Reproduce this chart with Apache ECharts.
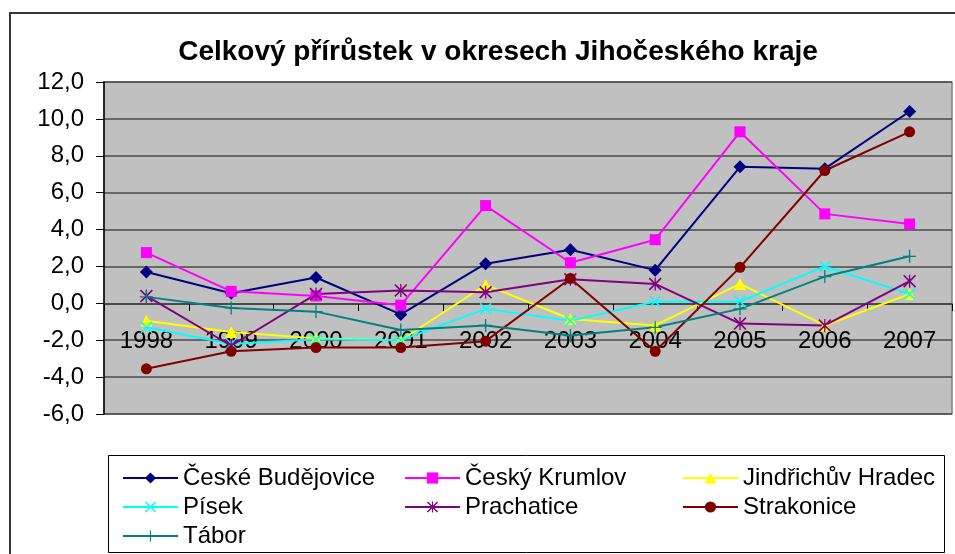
<!DOCTYPE html>
<html>
<head>
<meta charset="utf-8">
<script src="https://cdn.jsdelivr.net/npm/echarts@6/dist/echarts.min.js"></script>
<style>
  html, body { margin: 0; padding: 0; background: #fff; }
  #chart { width: 955px; height: 554px; }
</style>
</head>
<body>
<div id="chart"></div>
<script>
// years on x axis
const years = ["1998", "1999", "2000", "2001", "2002", "2003", "2004", "2005", "2006", "2007"];
// values per okres
const ceskeBudejovice = [1.7, 0.55, 1.4, -0.6, 2.15, 2.9, 1.8, 7.4, 7.3, 10.4];
const ceskyKrumlov = [2.75, 0.65, 0.4, -0.1, 5.3, 2.2, 3.45, 9.3, 4.85, 4.3];
const jindrichuvHradec = [-0.95, -1.55, -1.9, -2.0, 1.0, -0.85, -1.2, 1.05, -1.2, 0.5];
const pisek = [-1.3, -2.2, -1.95, -2.0, -0.3, -0.95, 0.1, 0.1, 2.0, 0.5];
const prachatice = [0.4, -2.3, 0.5, 0.7, 0.6, 1.3, 1.05, -1.1, -1.2, 1.2];
const strakonice = [-3.55, -2.6, -2.4, -2.4, -2.05, 1.35, -2.6, 1.95, 7.2, 9.3];
const tabor = [0.35, -0.25, -0.45, -1.45, -1.2, -1.75, -1.3, -0.3, 1.45, 2.55];

const FONT = "'Liberation Sans', Arial, sans-serif";

// hand made symbols (x, asterisk, plus)
const xPath = "path://M0,1.8L1.8,0L10,8.2L18.2,0L20,1.8L11.8,10L20,18.2L18.2,20L10,11.8L1.8,20L0,18.2L8.2,10Z";
const starPath = xPath + "M9,0L11,0L11,20L9,20Z";
const plusPath = "path://M9,0L11,0L11,9L20,9L20,11L11,11L11,20L9,20L9,11L0,11L0,9L9,9Z";

let chart = echarts.init(document.getElementById("chart"));

function line(name, data, color, symbol, size) {
  return {
    name: name,
    type: "line",
    data: data,
    symbol: symbol,
    symbolSize: size,
    lineStyle: { color: color, width: 2 },
    itemStyle: { color: color },
    emphasis: { disabled: true },
  };
}

let legendText = { fontFamily: FONT, fontSize: 24, color: "#000", lineHeight: 24 };
function legendCol(left, names) {
  return {
    orient: "vertical",
    left: left,
    top: 461,
    itemWidth: 55,
    itemHeight: 14,
    itemGap: 5,
    textStyle: legendText,
    data: names,
  };
}

let option = {
  backgroundColor: "#fff",
  animation: false,
  title: {
    text: "Celkový přírůstek v okresech Jihočeského kraje",
    left: 493,
    top: 33,
    textAlign: "center",
    textStyle: {
      fontFamily: FONT,
      fontSize: 28,
      fontWeight: "bold",
      color: "#000",
    },
  },
  legend: [
    legendCol(117, ["České Budějovice", "Písek", "Tábor"]),
    legendCol(399, ["Český Krumlov", "Prachatice"]),
    legendCol(677, ["Jindřichův Hradec", "Strakonice"]),
  ],
  grid: {
    left: 104,
    top: 82,
    right: 3,
    bottom: 140,
    show: true,
    backgroundColor: "#C0C0C0",
    borderColor: "#808080",
    borderWidth: 1.5,
  },
  xAxis: {
    type: "category",
    data: years,
    boundaryGap: true,
    position: "bottom",
    offset: -110, // category axis sits on the 0,0 line
    axisLine: { onZero: false, lineStyle: { color: "#404040", width: 1.5 } },
    axisTick: { show: true, length: 7, lineStyle: { color: "#000" } },
    axisLabel: { fontFamily: FONT, fontSize: 24, color: "#000", margin: 25 },
    splitLine: { show: false },
  },
  yAxis: {
    type: "value",
    min: -6,
    max: 12,
    interval: 2,
    axisLine: { show: true, lineStyle: { color: "#000", width: 1.5 } },
    axisTick: { show: true, length: 8, lineStyle: { color: "#000" } },
    axisLabel: {
      fontFamily: FONT,
      fontSize: 24,
      color: "#000",
      margin: 20,
      formatter: (v) => v.toFixed(1).replace(".", ","),
    },
    splitLine: { show: true, lineStyle: { color: "#4a4a4a", width: 1.5 } },
  },
  series: [
    line("České Budějovice", ceskeBudejovice, "#000080", "diamond", 13),
    line("Český Krumlov", ceskyKrumlov, "#FF00FF", "rect", 11),
    line("Jindřichův Hradec", jindrichuvHradec, "#FFFF00", "triangle", 12),
    line("Písek", pisek, "#00FFFF", xPath, 12),
    line("Prachatice", prachatice, "#800080", starPath, 13),
    line("Strakonice", strakonice, "#800000", "circle", 11),
    line("Tábor", tabor, "#008080", plusPath, 13),
  ],
  graphic: [
    {
      type: "rect",
      silent: true,
      shape: { x: 10, y: 13, width: 960, height: 560 },
      style: { fill: null, stroke: "#333", lineWidth: 2 },
    },
    {
      type: "rect",
      silent: true,
      shape: { x: 108.5, y: 455.5, width: 836, height: 97 },
      style: { fill: null, stroke: "#000", lineWidth: 1 },
    },
  ],
};

chart.setOption(option);
</script>
</body>
</html>
